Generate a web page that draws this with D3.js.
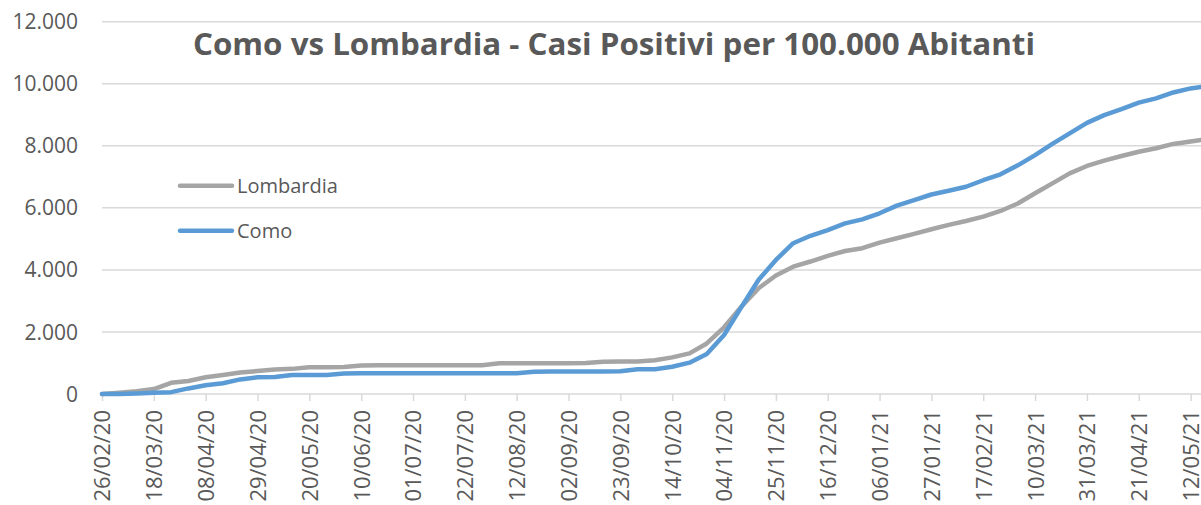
<!DOCTYPE html>
<html>
<head>
<meta charset="utf-8">
<script src="https://cdn.jsdelivr.net/npm/d3@7"></script>
<style>
  body { margin: 0; background: #fff; }
  svg { display: block; font-family: "Open Sans", "Liberation Sans", sans-serif; }
</style>
</head>
<body>
<svg id="chart" width="1201" height="505"></svg>
<script>
// weekly readings, starting 26/02/20
const startDate = '26/02/20';

const lombardia = [
  0, 40, 90, 160, 360, 420, 540, 610, 690, 740,
  790, 810, 860, 860, 870, 920, 925, 925, 925, 925,
  925, 925, 930, 990, 990, 990, 990, 990, 1000, 1040,
  1045, 1050, 1090, 1180, 1310, 1630, 2150, 2810, 3410, 3820,
  4105, 4270, 4450, 4610, 4700, 4880, 5020, 5160, 5310, 5450,
  5575, 5715, 5900, 6140, 6470, 6790, 7110, 7350, 7520, 7670,
  7810, 7920, 8060, 8140, 8220
];

const como = [
  0, 0, 20, 40, 60, 180, 280, 345, 470, 540,
  545, 610, 615, 615, 660, 665, 670, 670, 670, 670,
  670, 670, 670, 670, 670, 720, 725, 725, 725, 725,
  730, 800, 800, 880, 1010, 1290, 1900, 2800, 3680, 4320,
  4860, 5100, 5285, 5500, 5630, 5825, 6070, 6250, 6430, 6550,
  6680, 6890, 7080, 7370, 7700, 8060, 8400, 8740, 8990, 9180,
  9390, 9530, 9720, 9850, 9920
];

const tickLabels = [
  '26/02/20', '18/03/20', '08/04/20', '29/04/20', '20/05/20', '10/06/20',
  '01/07/20', '22/07/20', '12/08/20', '02/09/20', '23/09/20', '14/10/20',
  '04/11/20', '25/11/20', '16/12/20', '06/01/21', '27/01/21', '17/02/21',
  '10/03/21', '31/03/21', '21/04/21', '12/05/21'
];

const yTicks = [0, 2000, 4000, 6000, 8000, 10000, 12000];

const series = [
  { name: 'Lombardia', values: lombardia, color: '#a5a5a5' },
  { name: 'Como', values: como, color: '#5b9bd5' }
];

const parse = d3.utcParse('%d/%m/%y');
const start = parse(startDate);
const dates = lombardia.map((d, i) => d3.utcDay.offset(start, 7 * i));
const tickDates = tickLabels.map(parse);

const svg = d3.select('#chart');
const left = 102;
const right = 1240;

const x = d3.scaleUtc()
  .domain([tickDates[0], tickDates[tickDates.length - 1]])
  .range([left, 1190.6]);

const y = d3.scaleLinear()
  .domain([0, 12000])
  .range([394, 21.7]);

const fmt = d3.formatLocale({ decimal: ',', thousands: '.', grouping: [3], currency: ['', '€'] }).format(',d');

// gridlines
svg.append('g')
  .selectAll('line')
  .data(yTicks.slice(1))
  .join('line')
  .attr('x1', left)
  .attr('x2', right)
  .attr('y1', d => y(d))
  .attr('y2', d => y(d))
  .attr('stroke', '#d9d9d9')
  .attr('stroke-width', 1.5);

// y labels
svg.append('g')
  .selectAll('text')
  .data(yTicks)
  .join('text')
  .attr('x', 78)
  .attr('y', d => y(d))
  .attr('dy', '0.36em')
  .attr('text-anchor', 'end')
  .attr('fill', '#595959')
  .attr('font-size', 21)
  .text(d => fmt(d));

// x axis
const xAxis = svg.append('g')
  .attr('transform', `translate(0,${y(0)})`)
  .call(d3.axisBottom(x).tickValues(tickDates).tickSize(7).tickFormat(d3.utcFormat('%d/%m/%y')));

xAxis.select('.domain').remove();
xAxis.append('line')
  .attr('x1', left)
  .attr('x2', right)
  .attr('stroke', '#d9d9d9')
  .attr('stroke-width', 1.5);
xAxis.selectAll('.tick line').attr('stroke', '#d9d9d9').attr('stroke-width', 1.5);
xAxis.selectAll('.tick text')
  .attr('font-size', 22)
  .attr('font-family', '"Open Sans", "Liberation Sans", sans-serif')
  .attr('fill', '#595959')
  .attr('text-anchor', 'end')
  .attr('transform', 'rotate(-90)')
  .attr('x', -16)
  .attr('y', 0)
  .attr('dy', '0.36em');

// lines
const line = d3.line()
  .x((d, i) => x(dates[i]))
  .y(d => y(d));

svg.append('g')
  .selectAll('path')
  .data(series)
  .join('path')
  .attr('d', d => line(d.values))
  .attr('fill', 'none')
  .attr('stroke', d => d.color)
  .attr('stroke-width', 4.5)
  .attr('stroke-linejoin', 'round')
  .attr('stroke-linecap', 'round');

// title
svg.append('text')
  .attr('x', 193)
  .attr('y', 55)
  .attr('font-size', 31)
  .attr('font-weight', 'bold')
  .attr('fill', '#595959')
  .attr('textLength', 842)
  .attr('lengthAdjust', 'spacingAndGlyphs')
  .text('Como vs Lombardia - Casi Positivi per 100.000 Abitanti');

// legend
const legend = svg.append('g')
  .selectAll('g')
  .data(series)
  .join('g')
  .attr('transform', (d, i) => `translate(180,${185.7 + i * 45})`);

legend.append('line')
  .attr('x1', 0)
  .attr('x2', 52)
  .attr('stroke', d => d.color)
  .attr('stroke-width', 4.5)
  .attr('stroke-linecap', 'round');

legend.append('text')
  .attr('x', 57)
  .attr('dy', '0.36em')
  .attr('font-size', 20)
  .attr('fill', '#595959')
  .text(d => d.name);
</script>
</body>
</html>
